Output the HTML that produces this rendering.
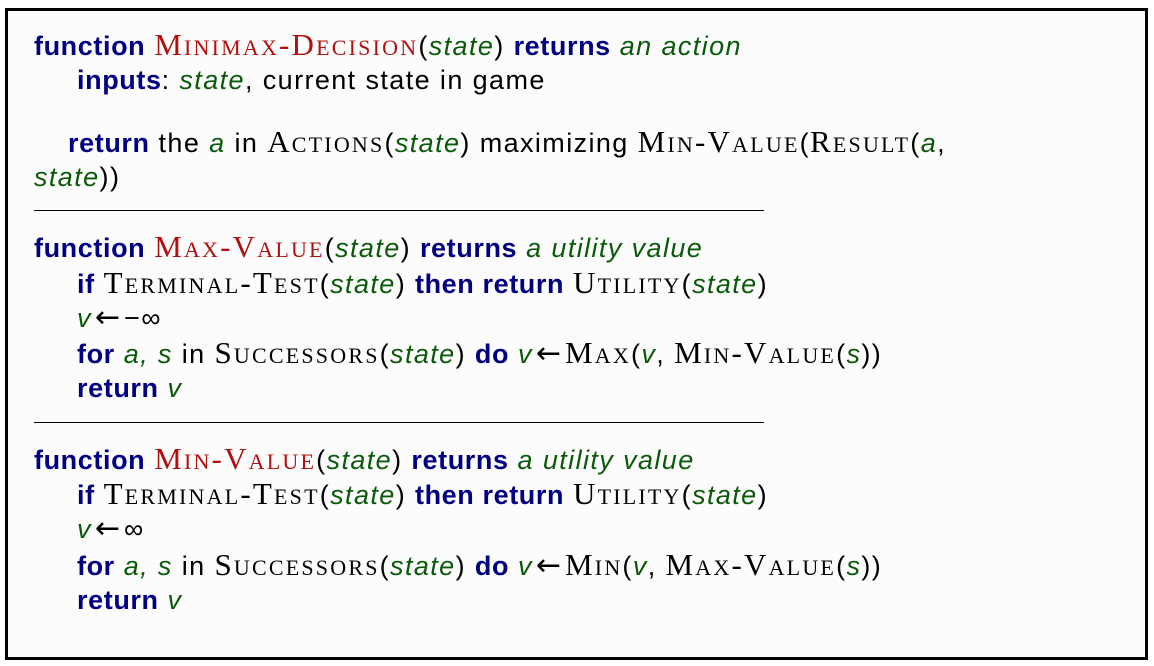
<!DOCTYPE html>
<html><head><meta charset="utf-8"><style>
html,body{margin:0;padding:0;background:#fff;}
body{width:1154px;height:666px;position:relative;overflow:hidden;font-family:"Liberation Sans",sans-serif;font-size:27px;letter-spacing:1.4px;color:#000;}
.box{position:absolute;left:5px;top:8px;width:1137px;height:646px;border:3px solid #000;background:#fcfcfc;}
.l{position:absolute;white-space:nowrap;line-height:30px;}
.k{color:#000080;font-weight:bold;letter-spacing:0.6px;}
.v{color:#0a5a0a;font-style:italic;}
.sc{font-family:"Liberation Serif",serif;font-variant:small-caps;font-size:31px;letter-spacing:2.2px;}
.r{color:#b01010;}
.a{font-family:"DejaVu Sans",sans-serif;font-size:30px;letter-spacing:0;margin:0 4px 0 3px;}
.hr{position:absolute;left:34px;width:730px;height:1px;background:#000;}
</style></head><body>
<div class="box"></div>
<div class="l" style="left:34px;top:30px"><span class="k">function</span> <span class="sc r">Minimax-Decision</span>(<span class="v">state</span>) <span class="k">returns</span> <span class="v">an action</span></div>
<div class="l" style="left:77px;top:65px"><span class="k">inputs</span>: <span class="v">state</span>, current state in game</div>
<div class="l" style="left:68px;top:127px"><span class="k">return</span> the <span class="v">a</span> in <span class="sc">Actions</span>(<span class="v">state</span>) maximizing <span class="sc">Min-Value</span>(<span class="sc">Result</span>(<span class="v">a</span>,</div>
<div class="l" style="left:34px;top:162px"><span class="v">state</span>))</div>
<div class="hr" style="top:210px"></div>
<div class="l" style="left:34px;top:232px"><span class="k">function</span> <span class="sc r">Max-Value</span>(<span class="v">state</span>) <span class="k">returns</span> <span class="v">a utility value</span></div>
<div class="l" style="left:77px;top:268px"><span class="k">if</span> <span class="sc">Terminal-Test</span>(<span class="v">state</span>) <span class="k">then return</span> <span class="sc">Utility</span>(<span class="v">state</span>)</div>
<div class="l" style="left:77px;top:303px"><span class="v">v</span><span class="a">←</span>−∞</div>
<div class="l" style="left:77px;top:338px"><span class="k">for</span> <span class="v">a, s</span> in <span class="sc">Successors</span>(<span class="v">state</span>) <span class="k">do</span> <span class="v">v</span><span class="a">←</span><span class="sc">Max</span>(<span class="v">v</span>, <span class="sc">Min-Value</span>(<span class="v">s</span>))</div>
<div class="l" style="left:77px;top:373px"><span class="k">return</span> <span class="v">v</span></div>
<div class="hr" style="top:422px"></div>
<div class="l" style="left:34px;top:444px"><span class="k">function</span> <span class="sc r">Min-Value</span>(<span class="v">state</span>) <span class="k">returns</span> <span class="v">a utility value</span></div>
<div class="l" style="left:77px;top:479px"><span class="k">if</span> <span class="sc">Terminal-Test</span>(<span class="v">state</span>) <span class="k">then return</span> <span class="sc">Utility</span>(<span class="v">state</span>)</div>
<div class="l" style="left:77px;top:514px"><span class="v">v</span><span class="a">←</span>∞</div>
<div class="l" style="left:77px;top:550px"><span class="k">for</span> <span class="v">a, s</span> in <span class="sc">Successors</span>(<span class="v">state</span>) <span class="k">do</span> <span class="v">v</span><span class="a">←</span><span class="sc">Min</span>(<span class="v">v</span>, <span class="sc">Max-Value</span>(<span class="v">s</span>))</div>
<div class="l" style="left:77px;top:585px"><span class="k">return</span> <span class="v">v</span></div>
</body></html>
